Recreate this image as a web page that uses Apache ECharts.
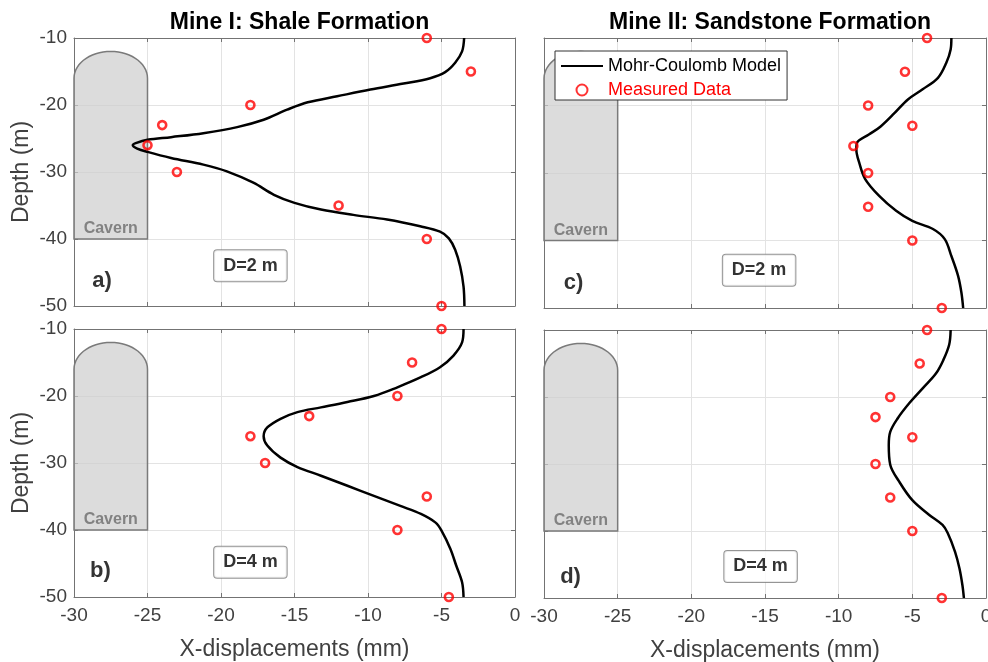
<!DOCTYPE html>
<html>
<head>
<meta charset="utf-8">
<script src="https://cdn.jsdelivr.net/npm/echarts@6/dist/echarts.min.js"></script>
<style>
html, body { margin: 0; padding: 0; background: #fff; }
#chart { width: 988px; height: 662px; }
</style>
</head>
<body>
<div id="chart"></div>
<script>
"use strict";

// axes
var xTicks = [-30, -25, -20, -15, -10, -5, 0];
var depthTicks = [-50, -40, -30, -20, -10];

// measured data (same depths in every panel)
var measuredDepth = [-10, -15, -20, -23, -26, -30, -35, -40, -50];
var measuredA = [-6, -3, -18, -24, -25, -23, -12, -6, -5];
var measuredB = [-5, -7, -8, -14, -18, -17, -6, -8, -4.5];
var measuredC = [-4, -5.5, -8, -5, -9, -8, -8, -5, -3];
var measuredD = [-4, -4.5, -6.5, -7.5, -5, -7.5, -6.5, -5, -3];

// Mohr-Coulomb model curves
var modelDepthA = [-10, -12, -13.7, -15.1, -16, -16.8, -17.7, -18.7, -19.6, -20.7, -22.2, -23.3, -24.2, -24.8, -25.2, -25.7, -26, -26.5, -27, -27.9, -28.9, -29.9, -31.6, -33.4, -34.6, -35.6, -36.4, -37.1, -38.1, -38.9, -39.9, -41.6, -44.1, -47.1, -50];
var modelA = [-3.46, -3.6, -4.07, -4.75, -5.77, -7.58, -9.84, -12.1, -14.1, -15.5, -17.1, -18.9, -21.2, -23.4, -25, -25.8, -26, -25.7, -25, -23.4, -21.2, -19.6, -17.8, -16.4, -15, -13.2, -11, -8.7, -6.45, -5.1, -4.5, -4.07, -3.73, -3.5, -3.44];

var modelDepthB = [-10, -12, -14, -15.7, -17.2, -18.7, -20, -20.9, -21.7, -22.4, -23.4, -24.7, -26, -27.4, -29.2, -30.6, -31.9, -33.4, -34.9, -36.4, -37.6, -38.9, -40.1, -42.8, -45.3, -47.8, -50];
var modelB = [-3.5, -3.6, -4.2, -5.1, -6.4, -8, -9.6, -11.4, -13.2, -14.8, -15.95, -16.85, -17.1, -16.85, -15.95, -14.8, -13.2, -11.4, -9.6, -7.8, -6.4, -5.4, -5, -4.4, -4, -3.6, -3.5];

var modelDepthC = [-10, -11.7, -13.7, -15.9, -17.6, -19.1, -21.1, -23.1, -24.3, -25.5, -26.5, -28.5, -30.9, -33.4, -35.6, -37.1, -38.3, -39.8, -42.3, -45.2, -47.7, -50];
var modelC = [-2.35, -2.4, -2.7, -3.26, -4.3, -5.3, -6.2, -7.15, -7.95, -8.75, -8.8, -8.6, -8.2, -7.25, -6.1, -5, -3.6, -2.8, -2.35, -1.9, -1.67, -1.55];

var modelDepthD = [-10, -12.2, -14.5, -16.5, -18.7, -20.9, -23.2, -25.2, -27.2, -30.1, -32.6, -35.4, -37.6, -39.1, -40.3, -43.1, -45.6, -48.1, -50];
var modelD = [-2.4, -2.5, -2.9, -3.4, -4.3, -5.2, -6, -6.5, -6.6, -6.5, -5.9, -5, -3.85, -2.95, -2.6, -2.1, -1.8, -1.6, -1.5];

// cavern outline: x range, bottom, shoulder, apex
var cavernX = [-30, -25];
var cavernDepth = [-40, -16, -12];

// annotations
var panelLetters = ['a)', 'b)', 'c)', 'd)'];
var letterX = [-28.1, -28.2, -28, -28.2];
var letterDepth = [-46.2, -46.1, -46.3, -46.8];
var spacingLabels = ['D=2 m', 'D=4 m', 'D=2 m', 'D=4 m'];
var spacingX = [-18, -18, -15.4, -15.3];
var spacingDepth = [-44, -44.8, -44.4, -45.3];

var titles = ['Mine I: Shale Formation', 'Mine II: Sandstone Formation'];

var FONT = '"Liberation Sans", Arial, sans-serif';
var AXIS_COLOR = '#737373';
var LABEL_COLOR = '#404040';

var grids = [
	{ left: 74, top: 38, width: 441, height: 268, outerBoundsMode: 'none' },
	{ left: 74, top: 329, width: 441, height: 268, outerBoundsMode: 'none' },
	{ left: 544, top: 38, width: 442, height: 270, outerBoundsMode: 'none' },
	{ left: 544, top: 330, width: 442, height: 268, outerBoundsMode: 'none' }
];

var panels = [
	{ model: modelA, modelDepth: modelDepthA, measured: measuredA, xLabels: false, yLabels: true },
	{ model: modelB, modelDepth: modelDepthB, measured: measuredB, xLabels: true, yLabels: true },
	{ model: modelC, modelDepth: modelDepthC, measured: measuredC, xLabels: false, yLabels: false },
	{ model: modelD, modelDepth: modelDepthD, measured: measuredD, xLabels: true, yLabels: false }
];

function pairs(xs, ys) {
	var out = [];
	for (var i = 0; i < xs.length; i++) {
		out.push([xs[i], ys[i]]);
	}
	return out;
}

function renderCavern(params, api) {
	var left = api.value(0), right = api.value(1);
	var bottom = api.value(2), shoulder = api.value(3), apex = api.value(4);
	var cx = (left + right) / 2, rx = (right - left) / 2, ry = apex - shoulder;
	var pts = [api.coord([left, bottom])];
	for (var i = 0; i <= 30; i++) {
		var a = Math.PI - Math.PI * i / 30;
		pts.push(api.coord([cx + rx * Math.cos(a), shoulder + ry * Math.sin(a)]));
	}
	pts.push(api.coord([right, bottom]));
	var textPos = api.coord([cx, bottom + 1.5]);
	return {
		type: 'group',
		children: [{
			type: 'polygon',
			shape: { points: pts },
			style: { fill: 'rgba(205,205,205,0.7)', stroke: '#7a7a7a', lineWidth: 1.5 }
		}, {
			type: 'text',
			x: textPos[0],
			y: textPos[1],
			style: {
				text: 'Cavern',
				fill: '#828282',
				font: 'bold 16px ' + FONT,
				align: 'center',
				verticalAlign: 'middle'
			}
		}]
	};
}

var xAxes = [], yAxes = [], series = [];

panels.forEach(function(p, i) {
	var tick = { show: true, inside: true, length: 4, lineStyle: { color: AXIS_COLOR } };
	var line = { show: true, onZero: false, lineStyle: { color: AXIS_COLOR, width: 1 } };

	xAxes.push({
		type: 'value', gridIndex: i, position: 'bottom',
		min: xTicks[0], max: xTicks[xTicks.length - 1], interval: 5,
		axisLine: line, axisTick: tick,
		splitLine: { show: true, lineStyle: { color: '#e3e3e3' } },
		axisLabel: { show: p.xLabels, margin: 9, fontSize: 19, fontFamily: FONT, color: LABEL_COLOR, showMaxLabel: true, showMinLabel: true },
		name: p.xLabels ? 'X-displacements (mm)' : '',
		nameLocation: 'middle', nameGap: 41,
		nameTextStyle: { fontSize: 23, fontFamily: FONT, color: LABEL_COLOR }
	});
	xAxes.push({
		type: 'value', gridIndex: i, position: 'top',
		min: xTicks[0], max: xTicks[xTicks.length - 1], interval: 5,
		axisLine: line, axisTick: tick, splitLine: { show: false }, axisLabel: { show: false }
	});
	yAxes.push({
		type: 'value', gridIndex: i, position: 'left',
		min: depthTicks[0], max: depthTicks[depthTicks.length - 1], interval: 10,
		axisLine: line, axisTick: tick,
		splitLine: { show: true, lineStyle: { color: '#e3e3e3' } },
		axisLabel: { show: p.yLabels, margin: 7, fontSize: 19, fontFamily: FONT, color: LABEL_COLOR, showMaxLabel: true, showMinLabel: true },
		name: p.yLabels ? 'Depth (m)' : '',
		nameLocation: 'middle', nameGap: 41,
		nameTextStyle: { fontSize: 23, fontFamily: FONT, color: LABEL_COLOR }
	});
	yAxes.push({
		type: 'value', gridIndex: i, position: 'right',
		min: depthTicks[0], max: depthTicks[depthTicks.length - 1], interval: 10,
		axisLine: line, axisTick: tick, splitLine: { show: false }, axisLabel: { show: false }
	});

	var xi = i * 2, yi = i * 2;

	series.push({
		type: 'custom', name: 'Cavern', xAxisIndex: xi, yAxisIndex: yi,
		renderItem: renderCavern,
		encode: { x: [0, 1], y: [2, 3, 4] },
		data: [[cavernX[0], cavernX[1], cavernDepth[0], cavernDepth[1], cavernDepth[2]]],
		z: 1, silent: true
	});
	series.push({
		type: 'line', name: 'Mohr-Coulomb Model', xAxisIndex: xi, yAxisIndex: yi,
		data: pairs(p.model, p.modelDepth),
		symbol: 'none', smooth: 0.35,
		lineStyle: { color: '#000', width: 2.5 },
		itemStyle: { color: '#000' },
		z: 3, silent: true
	});
	series.push({
		type: 'scatter', name: 'Measured Data', xAxisIndex: xi, yAxisIndex: yi,
		data: pairs(p.measured, measuredDepth),
		symbol: 'circle', symbolSize: 8, clip: false,
		itemStyle: { color: 'rgba(0,0,0,0)', borderColor: '#ff0000', borderWidth: 2.6 },
		z: 4, silent: true
	});
	series.push({
		type: 'scatter', name: 'annot', xAxisIndex: xi, yAxisIndex: yi,
		symbolSize: 1, itemStyle: { color: 'rgba(0,0,0,0)' }, silent: true, z: 5,
		data: [{
			value: [letterX[i], letterDepth[i]],
			label: { show: true, position: 'inside', formatter: panelLetters[i], fontSize: 22, fontWeight: 'bold', fontFamily: FONT, color: '#000' }
		}, {
			value: [spacingX[i], spacingDepth[i]],
			label: {
				show: true, position: 'inside', formatter: spacingLabels[i],
				fontSize: 18, fontWeight: 'bold', fontFamily: FONT, color: '#000',
				backgroundColor: '#fff', borderColor: '#7a7a7a', borderWidth: 1, borderRadius: 3,
				padding: [6, 9, 5, 9], lineHeight: 20
			}
		}]
	});
});

var chart = echarts.init(document.getElementById('chart'), null, { renderer: 'canvas' });

chart.setOption({
	backgroundColor: '#fff',
	animation: false,
	title: [{
		text: titles[0], left: 294.5, top: 6, textAlign: 'center',
		textStyle: { fontSize: 23, fontWeight: 'bold', fontFamily: FONT, color: '#000' }
	}, {
		text: titles[1], left: 765, top: 6, textAlign: 'center',
		textStyle: { fontSize: 23, fontWeight: 'bold', fontFamily: FONT, color: '#000' }
	}],
	legend: {
		orient: 'vertical', left: 555, top: 51,
		backgroundColor: '#fff', borderColor: '#333', borderWidth: 1, borderRadius: 0,
		padding: [6, 6, 1, 5], itemWidth: 42, itemHeight: 11, itemGap: 6,
		selectedMode: false,
		textStyle: { fontSize: 18, fontFamily: FONT },
		data: [
			{ name: 'Mohr-Coulomb Model', itemStyle: { opacity: 0 }, textStyle: { color: '#000' } },
			{ name: 'Measured Data', textStyle: { color: '#ff0000' } }
		]
	},
	grid: grids,
	xAxis: xAxes,
	yAxis: yAxes,
	series: series
});
</script>
</body>
</html>
